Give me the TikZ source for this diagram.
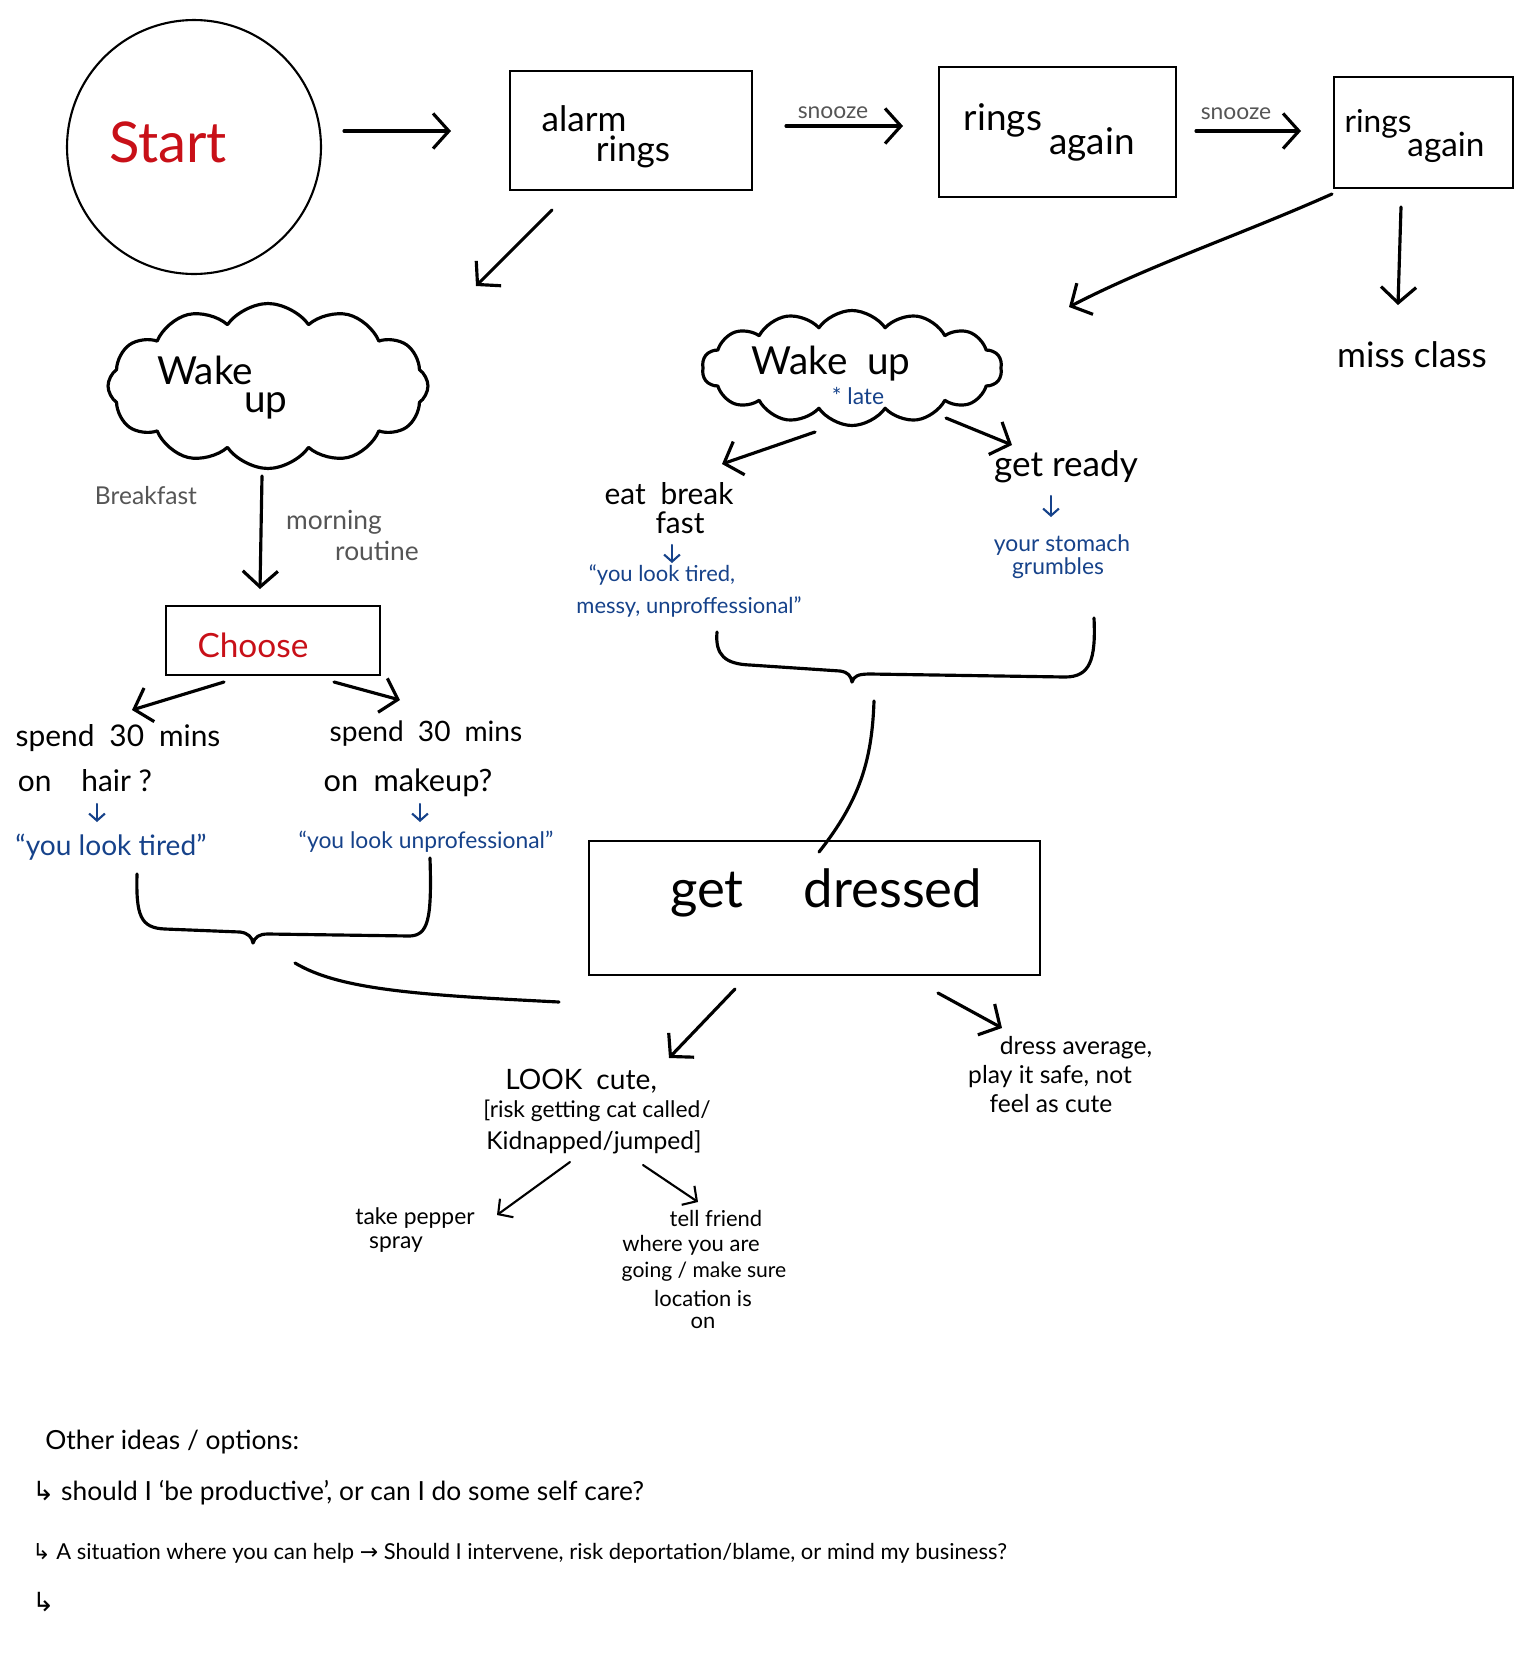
\documentclass[tikz,border=0pt]{standalone}
\usepackage{fontspec}
\setmainfont{Lato}
\newfontfamily\symfont{DejaVu Sans}
\usetikzlibrary{arrows.meta,shapes.symbols}
\definecolor{inkred}{RGB}{200,16,24}
\definecolor{inkblue}{RGB}{22,66,138}
\definecolor{inkgray}{RGB}{85,85,85}
\newcommand\sz[1]{\fontsize{#1}{#1}\selectfont}

\begin{document}
\begin{tikzpicture}[x=0.02cm,y=-0.02cm,
  ink/.style={line width=1.8pt, line cap=round, line join=round},
  arr/.style={ink,-{Straight Barb[length=9pt,width=20pt]}},
  smallarr/.style={line width=1.2pt, line cap=round, line join=round,-{Straight Barb[length=6pt,width=13pt]}},
  bluearr/.style={inkblue, line width=1.2pt, line cap=round,-{Straight Barb[length=4pt,width=9pt]}},
  frame/.style={draw, line width=1.2pt, inner sep=0pt},
  puffy/.style={cloud, draw, ink, cloud ignores aspect, cloud puff arc=110},
  txt/.style={inner sep=0pt, align=center},
  lefttxt/.style={inner sep=0pt, anchor=west}]

\useasboundingbox (0,0) rectangle (1527,1671);

% ---------- top row ----------
\node[frame, circle, minimum size=5.08cm] (start) at (194,147) {};
\node[txt, inkred] (starttxt) at (168,142) {\sz{32}Start};

\node[frame, minimum width=4.84cm, minimum height=2.38cm] (alarm) at (631,130.5) {};
\node[txt] (alarmA) at (584,119) {\sz{20}alarm};
\node[txt] (alarmB) at (633,152) {\sz{20}rings};

\node[frame, minimum width=4.74cm, minimum height=2.6cm] (again1) at (1057.5,132) {};
\node[txt] (again1A) at (1003,120) {\sz{21}rings};
\node[txt] (again1B) at (1092,144) {\sz{21}again};

\node[frame, minimum width=3.58cm, minimum height=2.22cm] (again2) at (1423.5,132.5) {};
\node[txt] (again2A) at (1378,124) {\sz{18}rings};
\node[txt] (again2B) at (1446,147) {\sz{19}again};

\node[txt, inkgray] (snoozeA) at (833,113) {\sz{13}snooze};
\node[txt, inkgray] (snoozeB) at (1236,114) {\sz{13}snooze};

\node[txt] (miss) at (1412,355) {\sz{20}miss class};

% ---------- arrow end points ----------
\coordinate (p1) at (344,131);  \coordinate (p2) at (451,131);
\coordinate (p3) at (786,126);  \coordinate (p4) at (903,126);
\coordinate (p5) at (1196,131); \coordinate (p6) at (1301,131);
\coordinate (p7) at (552,210);  \coordinate (p8) at (476,286);
\coordinate (p9) at (1332,194); \coordinate (p10) at (1069,307);
\coordinate (p11) at (1401,207);\coordinate (p12) at (1398,305);

\draw[arr] (p1) -- (p2);
\draw[arr] (p3) -- (p4);
\draw[arr] (p5) -- (p6);
\draw[arr] (p7) -- (p8);
\draw[arr] (p9) .. controls (1240,235) and (1150,265) .. (p10);
\draw[arr] (p11) -- (p12);

% ---------- left branch ----------
\node[puffy, cloud puffs=12, minimum width=6.4cm, minimum height=3.3cm] (wake1) at (268,386) {};
\node[txt] (wake1A) at (205,370) {\sz{22}Wake};
\node[txt] (wake1B) at (266,406) {\sz{22}up};

\node[txt, inkgray] (breakfast) at (146,496) {\sz{14}Breakfast};
\node[txt, inkgray] (morningA) at (334,522) {\sz{15}morning};
\node[txt, inkgray] (morningB) at (377,551) {\sz{15}routine};
\coordinate (q1) at (262,476); \coordinate (q2) at (260,589);
\draw[arr] (q1) -- (q2);

\node[frame, minimum width=4.28cm, minimum height=1.38cm] (choose) at (273,640.5) {};
\node[txt, inkred] (choosetxt) at (253,645) {\sz{19}Choose};

\coordinate (q3) at (224,682); \coordinate (q4) at (132,710);
\coordinate (q5) at (334,682); \coordinate (q6) at (400,700);
\draw[arr] (q3) -- (q4);
\draw[arr] (q5) -- (q6);

\node[txt] (hairA) at (118,738) {\sz{17}spend\enspace 30\enspace mins};
\node[txt] (hairB) at (85,781) {\sz{17}on\quad hair ?};
\node[txt, inkblue] (hairC) at (111,847) {\sz{16}“you look tired”};
\coordinate (b1) at (97,804); \coordinate (b2) at (97,822);
\draw[bluearr] (b1) -- (b2);

\node[txt] (makeA) at (426,734) {\sz{16}spend\enspace 30\enspace mins};
\node[txt] (makeB) at (408,783) {\sz{17.5}on\enspace makeup?};
\node[txt, inkblue] (makeC) at (426,842) {\sz{13}“you look unprofessional”};
\coordinate (b3) at (420,804); \coordinate (b4) at (420,822);
\draw[bluearr] (b3) -- (b4);

% left brace gathering both choices
\draw[ink] (137,874) .. controls (136,915) and (140,928) .. (165,929) -- (240,932)
  .. controls (248,933) and (252,937) .. (253,943)
  .. controls (255,937) and (259,934) .. (268,934) -- (410,936)
  .. controls (428,935) and (432,920) .. (430,858);

% ---------- right branch ----------
\node[puffy, cloud puffs=14, minimum width=6.0cm, minimum height=2.3cm] (wake2) at (852,368) {};
\node[txt] (wake2A) at (831,364) {\sz{22}Wake\enspace up};
\node[txt, inkblue] (wake2B) at (858,396) {\sz{13}* late};

\coordinate (r1) at (815,432); \coordinate (r2) at (722,464);
\coordinate (r3) at (946,418); \coordinate (r4) at (1012,445);
\draw[arr] (r1) -- (r2);
\draw[arr] (r3) -- (r4);

\node[txt] (eatA) at (669,494) {\sz{17}eat\enspace break};
\node[txt] (eatB) at (680,523) {\sz{17}fast};
\coordinate (b5) at (672,545); \coordinate (b6) at (672,563);
\draw[bluearr] (b5) -- (b6);
\node[txt, inkblue] (eatC) at (662,575) {\sz{12.5}“you look tired,};
\node[txt, inkblue] (eatD) at (689,607) {\sz{12.5}messy, unproffessional”};

\node[txt] (ready) at (1066,467) {\sz{20}get ready};
\coordinate (b7) at (1051,496); \coordinate (b8) at (1051,517);
\draw[bluearr] (b7) -- (b8);
\node[txt, inkblue] (readyA) at (1062,545) {\sz{13}your stomach};
\node[txt, inkblue] (readyB) at (1058,568) {\sz{13}grumbles};

% right brace gathering both outcomes
\draw[ink] (717,632) .. controls (715,655) and (725,664) .. (750,665) -- (840,671)
  .. controls (848,672) and (851,676) .. (852,682)
  .. controls (854,676) and (858,674) .. (870,674) -- (1065,677)
  .. controls (1090,677) and (1096,660) .. (1094,618);

% ---------- get dressed ----------
\node[frame, minimum width=9.02cm, minimum height=2.68cm] (dressed) at (814.5,908) {};
\node[txt] (dressedA) at (707,895) {\sz{30}get};
\node[txt] (dressedB) at (893,888) {\sz{30}dressed};

\draw[ink] (295,963) .. controls (340,990) and (420,995) .. (559,1002);
\draw[ink] (874,701) .. controls (872,760) and (860,800) .. (819,852);

\coordinate (s1) at (735,989);  \coordinate (s2) at (669,1058);
\coordinate (s3) at (938,993);  \coordinate (s4) at (1002,1028);
\draw[arr] (s1) -- (s2);
\draw[arr] (s3) -- (s4);

\node[txt] (cuteA) at (581,1081) {\sz{16}LOOK\enspace cute,};
\node[txt] (cuteB) at (597,1111) {\sz{13}[risk getting cat called/};
\node[txt] (cuteC) at (594,1142) {\sz{14}Kidnapped/jumped]};

\node[txt] (avgA) at (1076,1048) {\sz{14}dress average,};
\node[txt] (avgB) at (1050,1077) {\sz{14}play it safe, not};
\node[txt] (avgC) at (1051,1104) {\sz{14}feel as cute};

\coordinate (t1) at (570,1162); \coordinate (t2) at (497,1215);
\coordinate (t3) at (643,1165); \coordinate (t4) at (698,1202);
\draw[smallarr] (t1) -- (t2);
\draw[smallarr] (t3) -- (t4);

\node[txt] (pepA) at (415,1218) {\sz{13}take pepper};
\node[txt] (pepB) at (396,1245) {\sz{13}spray};

\node[txt] (friendA) at (716,1218) {\sz{12.5}tell friend};
\node[txt] (friendB) at (691,1245) {\sz{12.5}where you are};
\node[txt] (friendC) at (704,1272) {\sz{12}going / make sure};
\node[txt] (friendD) at (703,1298) {\sz{12.5}location is};
\node[txt] (friendE) at (703,1323) {\sz{12.5}on};

% ---------- notes ----------
\node[lefttxt] (noteA) at (45,1442) {\sz{15}Other ideas / options:};
\node[lefttxt] (noteB) at (32,1493) {\sz{15}{\symfont ↳} should I ‘be productive’, or can I do some self care?};
\node[lefttxt] (noteC) at (32,1553) {\sz{12.5}{\symfont ↳} A situation where you can help {\symfont →} Should I intervene, risk deportation/blame, or mind my business?};
\node[lefttxt] (noteD) at (32,1602) {\sz{15}{\symfont ↳}};

\end{tikzpicture}
\end{document}
